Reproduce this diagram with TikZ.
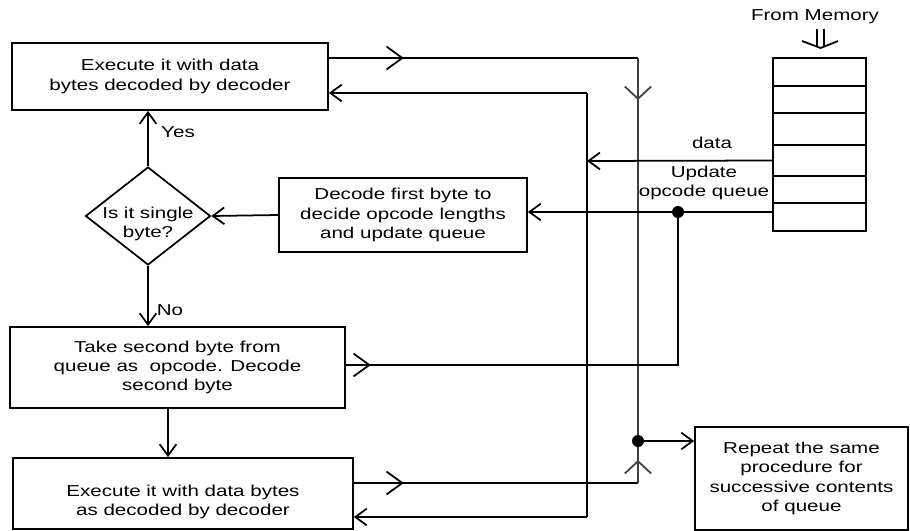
\documentclass[tikz,border=0pt]{standalone}
\usepackage{fontspec}
\setmainfont[FakeStretch=1.3]{Liberation Sans}
\usetikzlibrary{arrows.meta,shapes.geometric,decorations.markings,calc}
\begin{document}
\begin{tikzpicture}[x=0.02cm,y=-0.02cm,
  txt/.style={inner sep=0pt, align=center, font=\fontsize{9}{11}\selectfont},
  box/.style={txt, draw, line width=1pt, rectangle},
  cell/.style={draw, line width=1pt, minimum width=1.86cm, inner sep=0pt},
  flow/.style={line width=1pt},
  bus/.style={line width=1.5pt, draw=black!75},
  arr/.style={-{Straight Barb[length=6.5pt,width=9.5pt,line width=1pt]}},
  midr/.style={postaction={decorate}, decoration={markings,
     mark=at position #1 with {\arrow[line width=1pt]{Straight Barb[length=9pt,width=13pt]}}}},
  midv/.style={postaction={decorate}, decoration={markings,
     mark=at position #1 with {\arrow[line width=1pt]{Straight Barb[length=7pt,width=15pt]}}}}
]
\useasboundingbox (0,0) rectangle (910,531);

% boxes
\node[box, minimum width=6.32cm, minimum height=1.34cm] (box1) at (170,76.5) {Execute it with data\\bytes decoded by decoder};
\node[box, minimum width=4.96cm, minimum height=1.48cm] (dec) at (403,215) {Decode first byte to\\decide opcode lengths\\and update queue};
\node[draw, diamond, line width=1pt, minimum width=2.5cm, minimum height=1.96cm, inner sep=0pt] (dia) at (148,216) {};
\node[txt] (diat) at (148,224) {Is it single\\byte?};
\node[box, minimum width=6.7cm, minimum height=1.62cm] (take) at (177.5,367.5) {Take second byte from\\queue as~~opcode. Decode\\second byte};
\node[box, minimum width=6.8cm, minimum height=1.42cm] (box2) at (183,493.5) {};
\node[txt] (box2t) at (183,502) {Execute it with data bytes\\as decoded by decoder};
\node[box, minimum width=4.26cm, minimum height=2.06cm] (rep) at (801.5,478.5) {Repeat the same\\procedure for\\successive contents\\of queue};

% memory stack
\node[cell, minimum height=0.56cm] (m1) at (819.5,72) {};
\node[cell, minimum height=0.54cm] (m2) at (819.5,99.5) {};
\node[cell, minimum height=0.64cm] (m3) at (819.5,129) {};
\node[cell, minimum height=0.62cm] (m4) at (819.5,160.5) {};
\node[cell, minimum height=0.54cm] (m5) at (819.5,189.5) {};
\node[cell, minimum height=0.56cm] (m6) at (819.5,217) {};
\node[txt] (fm) at (815,17) {From Memory};
\draw[flow] (817,29) -- (817,47);
\draw[flow] (824,29) -- (824,47);
\draw[flow] (802,41) -- (820.5,48) -- (838,41);

% labels
\node[txt] (yes) at (178,132) {Yes};
\node[txt] (no) at (170,310) {No};
\node[txt] (dl) at (712,143) {data};
\node[txt] (ul) at (704,183) {Update\\opcode queue};

% helper coordinates
\coordinate (jtop) at (638,58);
\coordinate (jn) at (638,441);
\coordinate (jbot) at (638,483);
\coordinate (dtop) at (587,93);
\coordinate (dbot) at (587,517);
\coordinate (dmid) at (587,161);
\coordinate (un) at (678,212);
\coordinate (ubot) at (678,365);
\coordinate (tx) at (168,0);

% connectors
\draw[flow, midr=1.5cm] (box1.east |- jtop) -- (jtop);
\draw[bus, midv=0.84cm] (jtop) -- (jn);
\draw[flow, midr=1.0cm] (box2.east |- jbot) -- (jbot);
\draw[bus, midv=0.46cm] (jbot) -- (jn);
\fill (jn) circle[radius=0.12cm];
\draw[flow, arr] (jn) -- (rep.west |- jn);

\draw[flow, arr] (dtop) -- (box1.east |- dtop);
\draw[flow] (dtop) -- (dbot);
\draw[flow, arr] (dbot) -- (box2.east |- dbot);
\draw[flow, arr] (m4.west) -- (dmid);

\draw[flow, arr] (m6.west |- un) -- (dec.east |- un);
\fill (un) circle[radius=0.12cm];
\draw[flow, midr=0.5cm] (take.east |- ubot) -- (ubot) -- (un);

\draw[flow, arr] (dec.west) -- (dia.east);
\draw[flow, arr] (dia.north) -- (dia.north |- box1.south);
\draw[flow, arr] (dia.south) -- (dia.south |- take.north);
\draw[flow, arr] (take.south -| tx) -- (box2.north -| tx);
\end{tikzpicture}
\end{document}
